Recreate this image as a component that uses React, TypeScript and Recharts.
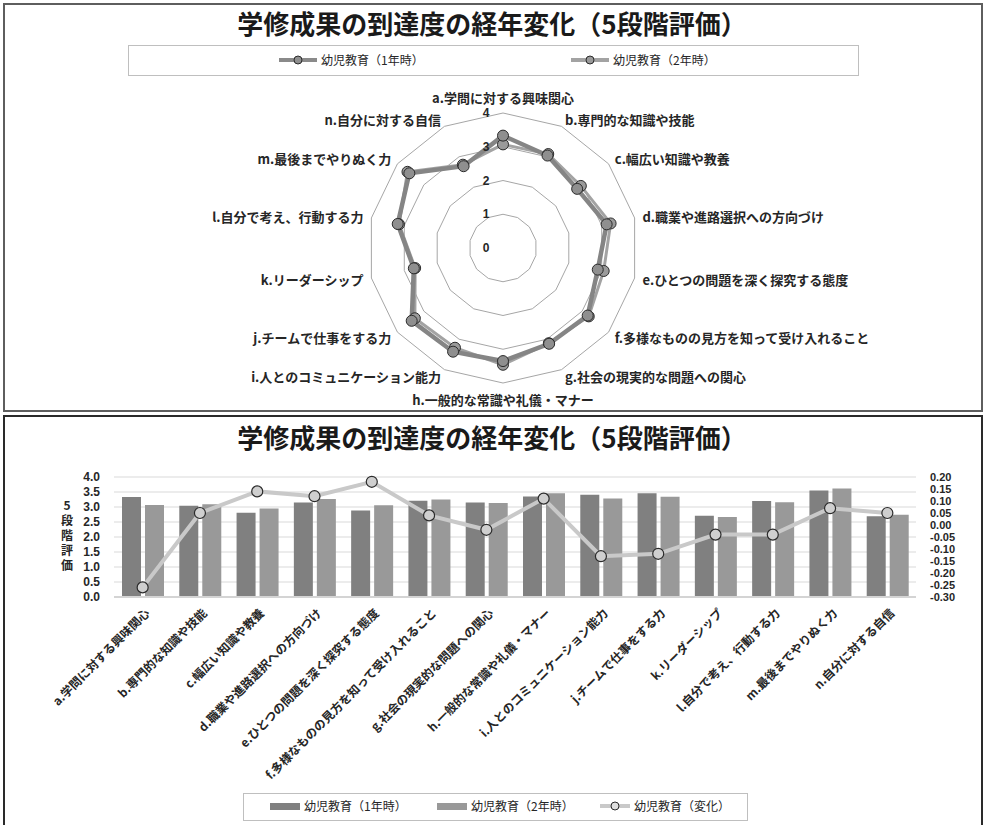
import React from 'react';
import {
  RadarChart, Radar, PolarGrid, PolarAngleAxis, PolarRadiusAxis,
  ComposedChart, Bar, Line, XAxis, YAxis, CartesianGrid, Label,
} from 'recharts';

// Learning-outcome items (a–n)
const categories = [
  'a.学問に対する興味関心',
  'b.専門的な知識や技能',
  'c.幅広い知識や教養',
  'd.職業や進路選択への方向づけ',
  'e.ひとつの問題を深く探究する態度',
  'f.多様なものの見方を知って受け入れること',
  'g.社会の現実的な問題への関心',
  'h.一般的な常識や礼儀・マナー',
  'i.人とのコミュニケーション能力',
  'j.チームで仕事をする力',
  'k.リーダーシップ',
  'l.自分で考え、行動する力',
  'm.最後までやりぬく力',
  'n.自分に対する自信',
];

// Mean score on the 5-level scale
const year1 = [3.33, 3.04, 2.81, 3.15, 2.88, 3.21, 3.15, 3.35, 3.41, 3.46, 2.71, 3.20, 3.55, 2.69];
const year2 = [3.07, 3.09, 2.95, 3.27, 3.06, 3.25, 3.13, 3.46, 3.28, 3.34, 2.67, 3.16, 3.62, 2.74];
// Change from year 1 to year 2
const change = [-0.26, 0.05, 0.14, 0.12, 0.18, 0.04, -0.02, 0.11, -0.13, -0.12, -0.04, -0.04, 0.07, 0.05];

const seriesNames = ['幼児教育（1年時）', '幼児教育（2年時）', '幼児教育（変化）'];
const title = '学修成果の到達度の経年変化（5段階評価）';
const leftTicks = [0, 0.5, 1, 1.5, 2, 2.5, 3, 3.5, 4];
const rightTicks = [-0.3, -0.25, -0.2, -0.15, -0.1, -0.05, 0, 0.05, 0.1, 0.15, 0.2];
const radarTicks = [0, 1, 2, 3, 4];
const axisTitle = '5段階評価';

const data = categories.map((label, i) => ({
  label,
  y1: year1[i],
  y2: year2[i],
  change: change[i],
}));

const FONT = '"Noto Sans CJK JP", "Noto Sans", sans-serif';
const NUM_FONT = '"Liberation Sans", Arial, sans-serif';
const TEXT = '#262626';

const C1 = '#808080';
const C2 = '#999999';
const CL = '#c9c9c9';

const RadarAngleTick = (props: any) => {
  const { x, y, textAnchor, payload, index } = props;
  let dy = 0;
  if (textAnchor === 'middle') dy = index === 0 ? -8 : 8;
  return (
    <text
      x={x}
      y={y + dy}
      textAnchor={textAnchor}
      dominantBaseline="central"
      fontFamily={FONT}
      fontSize={13}
      fontWeight="bold"
      fill={TEXT}
    >
      {payload.value}
    </text>
  );
};

const RadarRadiusTick = (props: any) => {
  const { x, y, payload } = props;
  return (
    <text
      x={x - 17}
      y={y}
      textAnchor="middle"
      dominantBaseline="central"
      fontFamily={NUM_FONT}
      fontSize={12}
      fontWeight="bold"
      fill={TEXT}
    >
      {payload.value}
    </text>
  );
};

const BarCategoryTick = (props: any) => {
  const { x, y, payload } = props;
  return (
    <g transform={`translate(${x + 4},${y + 5})`}>
      <text
        x={0}
        y={0}
        textAnchor="end"
        dominantBaseline="central"
        transform="rotate(-45)"
        fontFamily={FONT}
        fontSize={12}
        fontWeight="bold"
        fill={TEXT}
      >
        {payload.value}
      </text>
    </g>
  );
};

// Vertical axis title written top-to-bottom
const VerticalAxisTitle = (props: any) => {
  const { viewBox } = props;
  const cx = viewBox.x + 63;
  const cy = viewBox.y + viewBox.height / 2;
  return (
    <text
      x={cx}
      y={cy}
      textAnchor="middle"
      fontFamily={FONT}
      fontSize={12}
      fontWeight="bold"
      fill={TEXT}
      style={{ writingMode: 'vertical-rl', textOrientation: 'upright', letterSpacing: 3 } as React.CSSProperties}
    >
      {axisTitle}
    </text>
  );
};

const LineMarker = ({ color, dotFill, width }: { color: string; dotFill: string; width: number }) => (
  <svg width={width} height={12} style={{ display: 'block' }}>
    <line x1={0} y1={6} x2={width} y2={6} stroke={color} strokeWidth={4} />
    <circle cx={width / 2} cy={6} r={4} fill={dotFill} stroke="#2b2b2b" strokeWidth={1} />
  </svg>
);

const abs = (left: number, top: number): React.CSSProperties => ({
  position: 'absolute',
  left,
  top,
});

const legendText: React.CSSProperties = {
  fontFamily: FONT,
  fontSize: 12,
  color: TEXT,
  lineHeight: '14px',
  whiteSpace: 'nowrap',
};

const titleStyle: React.CSSProperties = {
  position: 'absolute',
  left: 0,
  width: 984,
  textAlign: 'center',
  fontFamily: FONT,
  fontSize: 26,
  fontWeight: 'bold',
  color: '#1a1a1a',
  lineHeight: '30px',
  whiteSpace: 'nowrap',
};

export default function App() {
  return (
    <div style={{ position: 'absolute', left: 0, top: 0, width: 984, height: 825, background: '#fff', overflow: 'hidden' }}>
      {/* Upper panel: radar chart */}
      <div style={{ position: 'absolute', left: 3, top: 3, width: 976, height: 405, border: '2px solid #5e5e5e' }} />
      <div style={{ ...titleStyle, top: 8 }}>{title}</div>
      <div style={{ position: 'absolute', left: 128, top: 45, width: 729, height: 29, border: '1px solid #bfbfbf' }} />
      <div style={abs(279, 54)}><LineMarker color="#8a8a8a" dotFill="#8f8f8f" width={38} /></div>
      <div style={{ ...abs(321, 53), ...legendText }}>{seriesNames[0]}</div>
      <div style={abs(571, 54)}><LineMarker color="#a3a3a3" dotFill="#9a9a9a" width={38} /></div>
      <div style={{ ...abs(613, 53), ...legendText }}>{seriesNames[1]}</div>

      <div style={abs(4, 3)}>
        <RadarChart width={976} height={405} data={data} cx={499} cy={245} outerRadius={135} startAngle={90} endAngle={-270}>
          <PolarGrid gridType="polygon" radialLines={false} stroke="#a6a6a6" strokeWidth={1} />
          <PolarAngleAxis dataKey="label" axisLine={false} tickLine={false} tick={<RadarAngleTick />} />
          <PolarRadiusAxis
            angle={90}
            domain={[0, 4]}
            ticks={radarTicks}
            tickCount={5}
            axisLine={false}
            tickLine={false}
            tick={<RadarRadiusTick />}
          />
          <Radar
            name={seriesNames[1]}
            dataKey="y2"
            stroke="#a3a3a3"
            strokeWidth={3}
            fill="none"
            fillOpacity={0}
            dot={{ r: 5.5, fill: '#9a9a9a', stroke: '#2b2b2b', strokeWidth: 1, fillOpacity: 1 }}
            isAnimationActive={false}
          />
          <Radar
            name={seriesNames[0]}
            dataKey="y1"
            stroke="#858585"
            strokeWidth={4.5}
            fill="none"
            fillOpacity={0}
            dot={{ r: 5.5, fill: '#8f8f8f', stroke: '#2b2b2b', strokeWidth: 1, fillOpacity: 1 }}
            isAnimationActive={false}
          />
        </RadarChart>
      </div>

      {/* Lower panel: bars with change line */}
      <div style={{ position: 'absolute', left: 3, top: 415, width: 976, height: 420, border: '2px solid #2a2a2a' }} />
      <div style={{ ...titleStyle, top: 422 }}>{title}</div>

      <div style={abs(4, 416)}>
        <ComposedChart
          width={978}
          height={409}
          data={data}
          margin={{ top: 61, right: 0, bottom: 28, left: 0 }}
          barSize={19}
          barGap={4}
        >
          <CartesianGrid yAxisId="left" vertical={false} stroke="#d9d9d9" strokeWidth={1} />
          <XAxis
            dataKey="label"
            interval={0}
            height={200}
            axisLine={{ stroke: '#d4d4d4', strokeWidth: 2 }}
            tickLine={false}
            tick={<BarCategoryTick />}
          />
          <YAxis
            yAxisId="left"
            orientation="left"
            width={110}
            domain={[0, 4]}
            ticks={leftTicks}
            interval={0}
            axisLine={false}
            tickLine={false}
            tickSize={6}
            tickMargin={8}
            tickFormatter={(v: number) => v.toFixed(1)}
            tick={{ fontFamily: NUM_FONT, fontSize: 12, fontWeight: 'bold', fill: TEXT }}
          >
            <Label content={<VerticalAxisTitle />} />
          </YAxis>
          <YAxis
            yAxisId="right"
            orientation="right"
            width={66}
            domain={[-0.3, 0.2]}
            ticks={rightTicks}
            interval={0}
            axisLine={false}
            tickLine={false}
            tickSize={6}
            tickMargin={8}
            tickFormatter={(v: number) => v.toFixed(2)}
            tick={{ fontFamily: NUM_FONT, fontSize: 11, fontWeight: 'bold', fill: TEXT, textAnchor: 'start' }}
          />
          <Bar yAxisId="left" dataKey="y1" name={seriesNames[0]} fill={C1} isAnimationActive={false} />
          <Bar yAxisId="left" dataKey="y2" name={seriesNames[1]} fill={C2} isAnimationActive={false} />
          <Line
            yAxisId="right"
            dataKey="change"
            name={seriesNames[2]}
            stroke={CL}
            strokeWidth={4}
            dot={{ r: 5.5, fill: '#cfcfcf', stroke: '#2b2b2b', strokeWidth: 1.2 }}
            activeDot={false}
            isAnimationActive={false}
          />
        </ComposedChart>
      </div>

      <div style={{ position: 'absolute', left: 243, top: 793, width: 503, height: 26, border: '1px solid #bfbfbf', background: '#fff' }} />
      <div style={{ position: 'absolute', left: 270, top: 803, width: 30, height: 7, background: C1 }} />
      <div style={{ ...abs(304, 799), ...legendText }}>{seriesNames[0]}</div>
      <div style={{ position: 'absolute', left: 437, top: 803, width: 30, height: 7, background: C2 }} />
      <div style={{ ...abs(471, 799), ...legendText }}>{seriesNames[1]}</div>
      <div style={abs(600, 800)}><LineMarker color={CL} dotFill="#dedede" width={30} /></div>
      <div style={{ ...abs(634, 799), ...legendText }}>{seriesNames[2]}</div>
    </div>
  );
}
